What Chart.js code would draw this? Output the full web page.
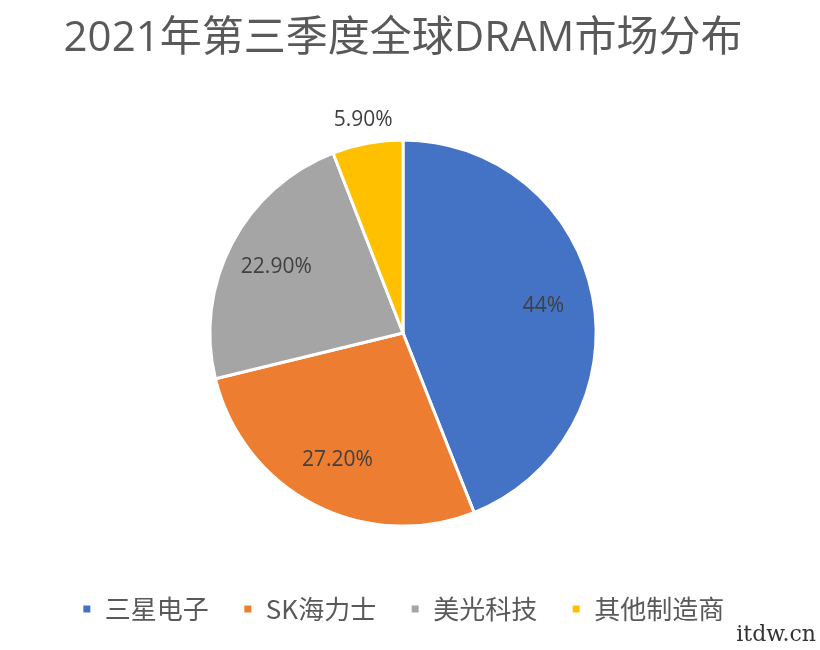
<!DOCTYPE html>
<html>
<head>
<meta charset="utf-8">
<script src="https://cdn.jsdelivr.net/npm/chart.js@4"></script>
<style>
  body { margin: 0; background: #fff; }
  #wrap { position: relative; width: 820px; height: 650px; }
  #mark { position: absolute; right: 4px; bottom: 4px; font: 22px "DejaVu Serif", serif; color: #333; }
</style>
</head>
<body>
<div id="wrap">
  <canvas id="pie" width="820" height="650"></canvas>
  <div id="mark">itdw.cn</div>
</div>
<script>
// Dados do gráfico
const categorias = ['三星电子', 'SK海力士', '美光科技', '其他制造商'];
const valores = [44, 27.2, 22.9, 5.9];
const rotulos = ['44%', '27.20%', '22.90%', '5.90%'];
const cores = ['#4472C4', '#ED7D31', '#A5A5A5', '#FFC000'];

// Rótulos dentro das fatias (a menor fica fora)
const labelPlugin = {
  id: 'sliceLabels',
  afterDatasetsDraw(chart) {
    const c = chart.ctx;
    const meta = chart.getDatasetMeta(0);
    c.save();
    c.font = '21px "Open Sans", "Noto Sans CJK SC", sans-serif';
    c.fillStyle = '#404040';
    c.textAlign = 'center';
    c.textBaseline = 'middle';
    meta.data.forEach((arc, i) => {
      const mid = (arc.startAngle + arc.endAngle) / 2;
      const f = valores[i] < 10 ? 1.12 : 0.74;
      const r = arc.outerRadius * f;
      c.fillText(rotulos[i], arc.x + Math.cos(mid) * r, arc.y + Math.sin(mid) * r);
    });
    c.restore();
  }
};

new Chart(document.getElementById('pie'), {
  type: 'pie',
  data: {
    labels: categorias,
    datasets: [{ data: valores, backgroundColor: cores, borderColor: '#fff', borderWidth: 3 }]
  },
  options: {
    responsive: false,
    animation: false,
    layout: { padding: { top: 0, bottom: 18, right: 14 } },
    plugins: {
      title: {
        display: true,
        text: '2021年第三季度全球DRAM市场分布',
        color: '#595959',
        font: { size: 42, weight: 'normal', family: '"Open Sans", "Noto Sans CJK SC", sans-serif' },
        padding: { top: 14, bottom: 74 }
      },
      legend: {
        position: 'bottom',
        title: { display: true, text: ' ', font: { size: 2 }, padding: { top: 32, bottom: 0 } },
        labels: {
          color: '#595959',
          font: { size: 26, family: '"Noto Sans CJK SC", sans-serif' },
          boxWidth: 10, boxHeight: 10, padding: 34
        }
      },
      tooltip: { enabled: false }
    }
  },
  plugins: [labelPlugin]
});
</script>
</body>
</html>
